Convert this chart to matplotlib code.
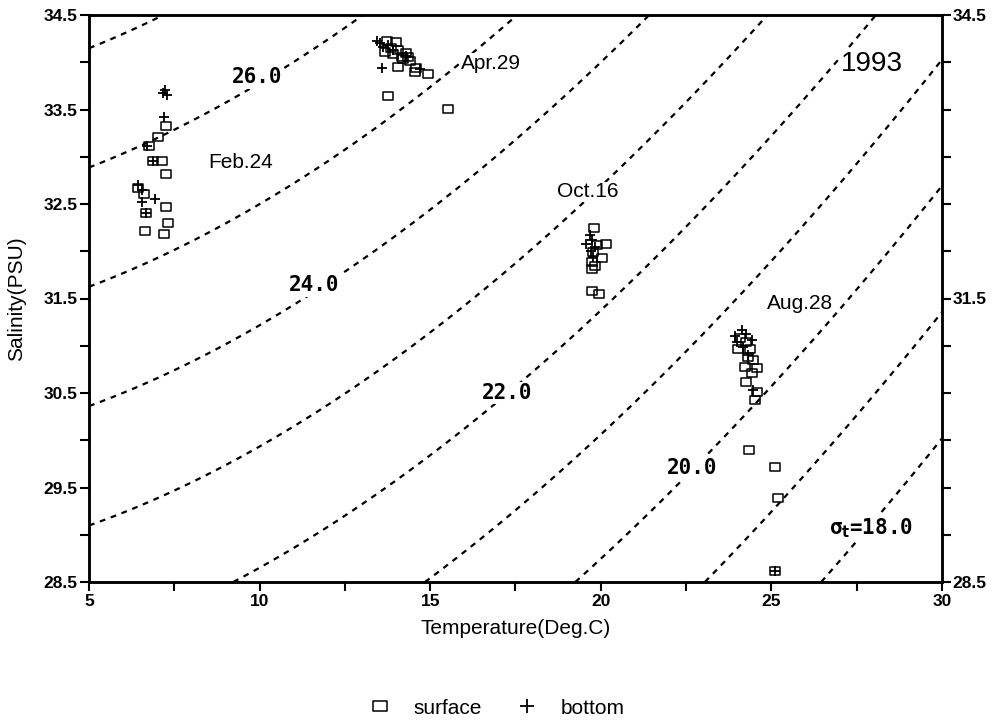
import numpy as np
import matplotlib
matplotlib.use("Agg")
import matplotlib.pyplot as plt
from matplotlib.path import Path
from matplotlib.lines import Line2D

# ---------------- data ----------------
feb_sT = [7.25, 7.01, 6.77, 6.88, 7.13, 7.25, 6.45, 6.61, 7.25, 6.66, 7.32, 6.64, 7.21]
feb_sS = [33.33, 33.21, 33.11, 32.95, 32.96, 32.82, 32.67, 32.61, 32.47, 32.40, 32.30, 32.21, 32.18]
feb_bT = [7.23, 7.28, 7.18, 7.20, 6.69, 6.45, 6.55, 6.54, 6.93, 6.66, 6.88]
feb_bS = [33.71, 33.65, 33.67, 33.42, 33.11, 32.70, 32.65, 32.52, 32.55, 32.40, 32.95]

apr_sT = [13.74, 14.00, 13.68, 13.92, 14.07, 14.16, 14.36, 14.41, 14.07, 14.58, 14.55, 14.94, 13.77, 15.53, 13.85, 14.20, 14.30]
apr_sS = [34.23, 34.21, 34.11, 34.09, 34.13, 34.06, 34.06, 34.01, 33.95, 33.94, 33.90, 33.88, 33.64, 33.51, 34.15, 34.03, 34.10]
apr_bT = [13.43, 13.53, 13.63, 13.77, 13.58, 14.29, 14.70, 13.90]
apr_bS = [34.23, 34.20, 34.16, 34.18, 33.94, 34.07, 33.93, 34.13]

oct_sT = [19.80, 20.14, 19.88, 19.78, 20.03, 19.73, 19.83, 19.75, 19.75, 19.96]
oct_sS = [32.25, 32.08, 32.07, 31.99, 31.93, 31.89, 31.84, 31.81, 31.58, 31.55]
oct_bT = [19.58, 19.68, 19.73, 19.83, 19.78, 19.72]
oct_bS = [32.08, 32.17, 32.12, 32.04, 31.94, 32.00]

aug_sT = [24.08, 24.27, 24.37, 24.03, 24.32, 24.47, 24.23, 24.57, 24.42, 24.27, 24.57, 24.52, 24.34, 25.12, 25.20, 25.11]
aug_sS = [31.08, 31.04, 30.97, 30.97, 30.88, 30.85, 30.78, 30.76, 30.71, 30.62, 30.51, 30.43, 29.90, 29.72, 29.39, 28.62]
aug_bT = [24.13, 24.27, 23.93, 23.98, 24.18, 24.42, 24.47, 25.11, 24.30]
aug_bS = [31.17, 31.12, 31.10, 31.04, 30.99, 31.06, 30.53, 28.62, 30.90]

sigma_levels = [18, 19, 20, 21, 22, 23, 24, 25, 26, 27]
labeled_sigmas = ["26.0", "24.0", "22.0", "20.0", "18.0"]
cruise_labels = ["Feb.24", "Apr.29", "Oct.16", "Aug.28"]
year_label = "1993"
x_ticks = [5, 10, 15, 20, 25, 30]
y_ticks_left = [28.5, 29.5, 30.5, 31.5, 32.5, 33.5, 34.5]
y_ticks_right = [28.5, 31.5, 34.5]

# ---------------- sigma-t (UNESCO 1981, p = 0) ----------------
def sigma_t(T, S):
    rw = (999.842594 + 6.793952e-2 * T - 9.095290e-3 * T**2 + 1.001685e-4 * T**3
          - 1.120083e-6 * T**4 + 6.536332e-9 * T**5)
    A = 8.24493e-1 - 4.0899e-3 * T + 7.6438e-5 * T**2 - 8.2467e-7 * T**3 + 5.3875e-9 * T**4
    B = -5.72466e-3 + 1.0227e-4 * T - 1.6546e-6 * T**2
    C = 4.8314e-4
    return rw + A * S + B * S**1.5 + C * S**2 - 1000.0

# ---------------- figure ----------------
fig = plt.figure(figsize=(9.92, 7.21), dpi=100)
ax = fig.add_axes([89/992, 1 - 582/721, (942-89)/992, (582-15)/721])
ax.set_xlim(5, 30)
ax.set_ylim(28.5, 34.5)

TT, SS = np.meshgrid(np.linspace(5, 30, 400), np.linspace(28.5, 34.5, 400))
ax.contour(TT, SS, sigma_t(TT, SS), levels=sigma_levels, colors="black",
           linewidths=1.6, linestyles=[(0, (2.6, 2.6))], zorder=1)

rect = Path([(-1, -0.75), (1, -0.75), (1, 0.75), (-1, 0.75), (-1, -0.75)],
            [Path.MOVETO, Path.LINETO, Path.LINETO, Path.LINETO, Path.CLOSEPOLY])

surf_kw = dict(marker=rect, linestyle="none", markersize=7.5, markerfacecolor="none",
               markeredgecolor="black", markeredgewidth=1.1, zorder=3)
bot_kw = dict(marker="+", linestyle="none", markersize=7.5, color="black",
              markeredgewidth=1.3, zorder=4)

for sT, sS, bT, bS in [(feb_sT, feb_sS, feb_bT, feb_bS), (apr_sT, apr_sS, apr_bT, apr_bS),
                       (oct_sT, oct_sS, oct_bT, oct_bS), (aug_sT, aug_sS, aug_bT, aug_bS)]:
    ax.plot(sT, sS, **surf_kw)
    ax.plot(bT, bS, **bot_kw)

# contour labels
lab_kw = dict(fontsize=15, fontweight="bold", family="DejaVu Sans Mono", ha="center",
              va="center", zorder=2,
              bbox=dict(facecolor="white", edgecolor="none", pad=1.0))
sig_pos = [(9.92, 33.84), (11.59, 31.64), (17.25, 30.50), (22.67, 29.71)]
for (x, y), t in zip(sig_pos, labeled_sigmas[:4]):
    ax.text(x, y, t, **lab_kw)
ax.text(27.92, 29.07, "σ" + r"$_\mathbf{t}$" + "=" + labeled_sigmas[4], **lab_kw)

# cruise labels
cr_pos = [(9.43, 32.94), (16.78, 33.99), (19.62, 32.63), (25.84, 31.45)]
for (x, y), t in zip(cr_pos, cruise_labels):
    ax.text(x, y, t, fontsize=15, family="Liberation Sans", ha="center", va="center",
            zorder=5, bbox=dict(facecolor="white", edgecolor="none", pad=0.5))
ax.text(27.95, 33.98, year_label, fontsize=20, family="Liberation Sans", ha="center",
        va="center", zorder=5, bbox=dict(facecolor="white", edgecolor="none", pad=0.5))

# axes styling
for side in ["left", "bottom", "top", "right"]:
    ax.spines[side].set_linewidth(1.8)

ax.set_xticks(x_ticks)
ax.set_xticks([7.5, 12.5, 17.5, 22.5, 27.5], minor=True)
ax.set_yticks(y_ticks_left)
ax.set_yticks([29.0, 30.0, 31.0, 32.0, 33.0, 34.0], minor=True)
ax.set_xticklabels([str(v) for v in x_ticks])
ax.set_yticklabels([f"{v:.1f}" for v in y_ticks_left])
ax.tick_params(which="both", direction="out", length=6.5, width=1.5)
ax.tick_params(axis="both", which="major", labelsize=12.5, pad=2)
for lbl in ax.get_xticklabels() + ax.get_yticklabels():
    lbl.set_fontweight("bold")
    lbl.set_family("Liberation Sans")

ax2 = ax.twinx()
ax2.set_ylim(28.5, 34.5)
ax2.set_yticks(y_ticks_right)
ax2.set_yticks([29.0, 29.5, 30.0, 30.5, 31.0, 32.0, 32.5, 33.0, 33.5, 34.0], minor=True)
ax2.set_yticklabels([f"{v:.1f}" for v in y_ticks_right])
ax2.tick_params(which="both", direction="out", length=6.5, width=1.5)
ax2.tick_params(axis="y", which="major", labelsize=12.5, pad=1)
for lbl in ax2.get_yticklabels():
    lbl.set_fontweight("bold")
    lbl.set_family("Liberation Sans")
for side in ["left", "bottom", "top", "right"]:
    ax2.spines[side].set_linewidth(1.8)

ax.set_xlabel("Temperature(Deg.C)", fontsize=15, family="Liberation Sans", labelpad=7)
ax.set_ylabel("Salinity(PSU)", fontsize=15, family="Liberation Sans", labelpad=12)

handles = [Line2D([], [], **surf_kw), Line2D([], [], **bot_kw)]
leg = fig.legend(handles, ["surface", "bottom"], loc="center", bbox_to_anchor=(0.5, 1 - 708/721),
                 ncol=2, frameon=False, prop={"family": "Liberation Sans", "size": 15},
                 handlelength=1.2, handletextpad=1.0, columnspacing=1.6, markerscale=1.3)

fig.savefig("out.png", dpi=100)
